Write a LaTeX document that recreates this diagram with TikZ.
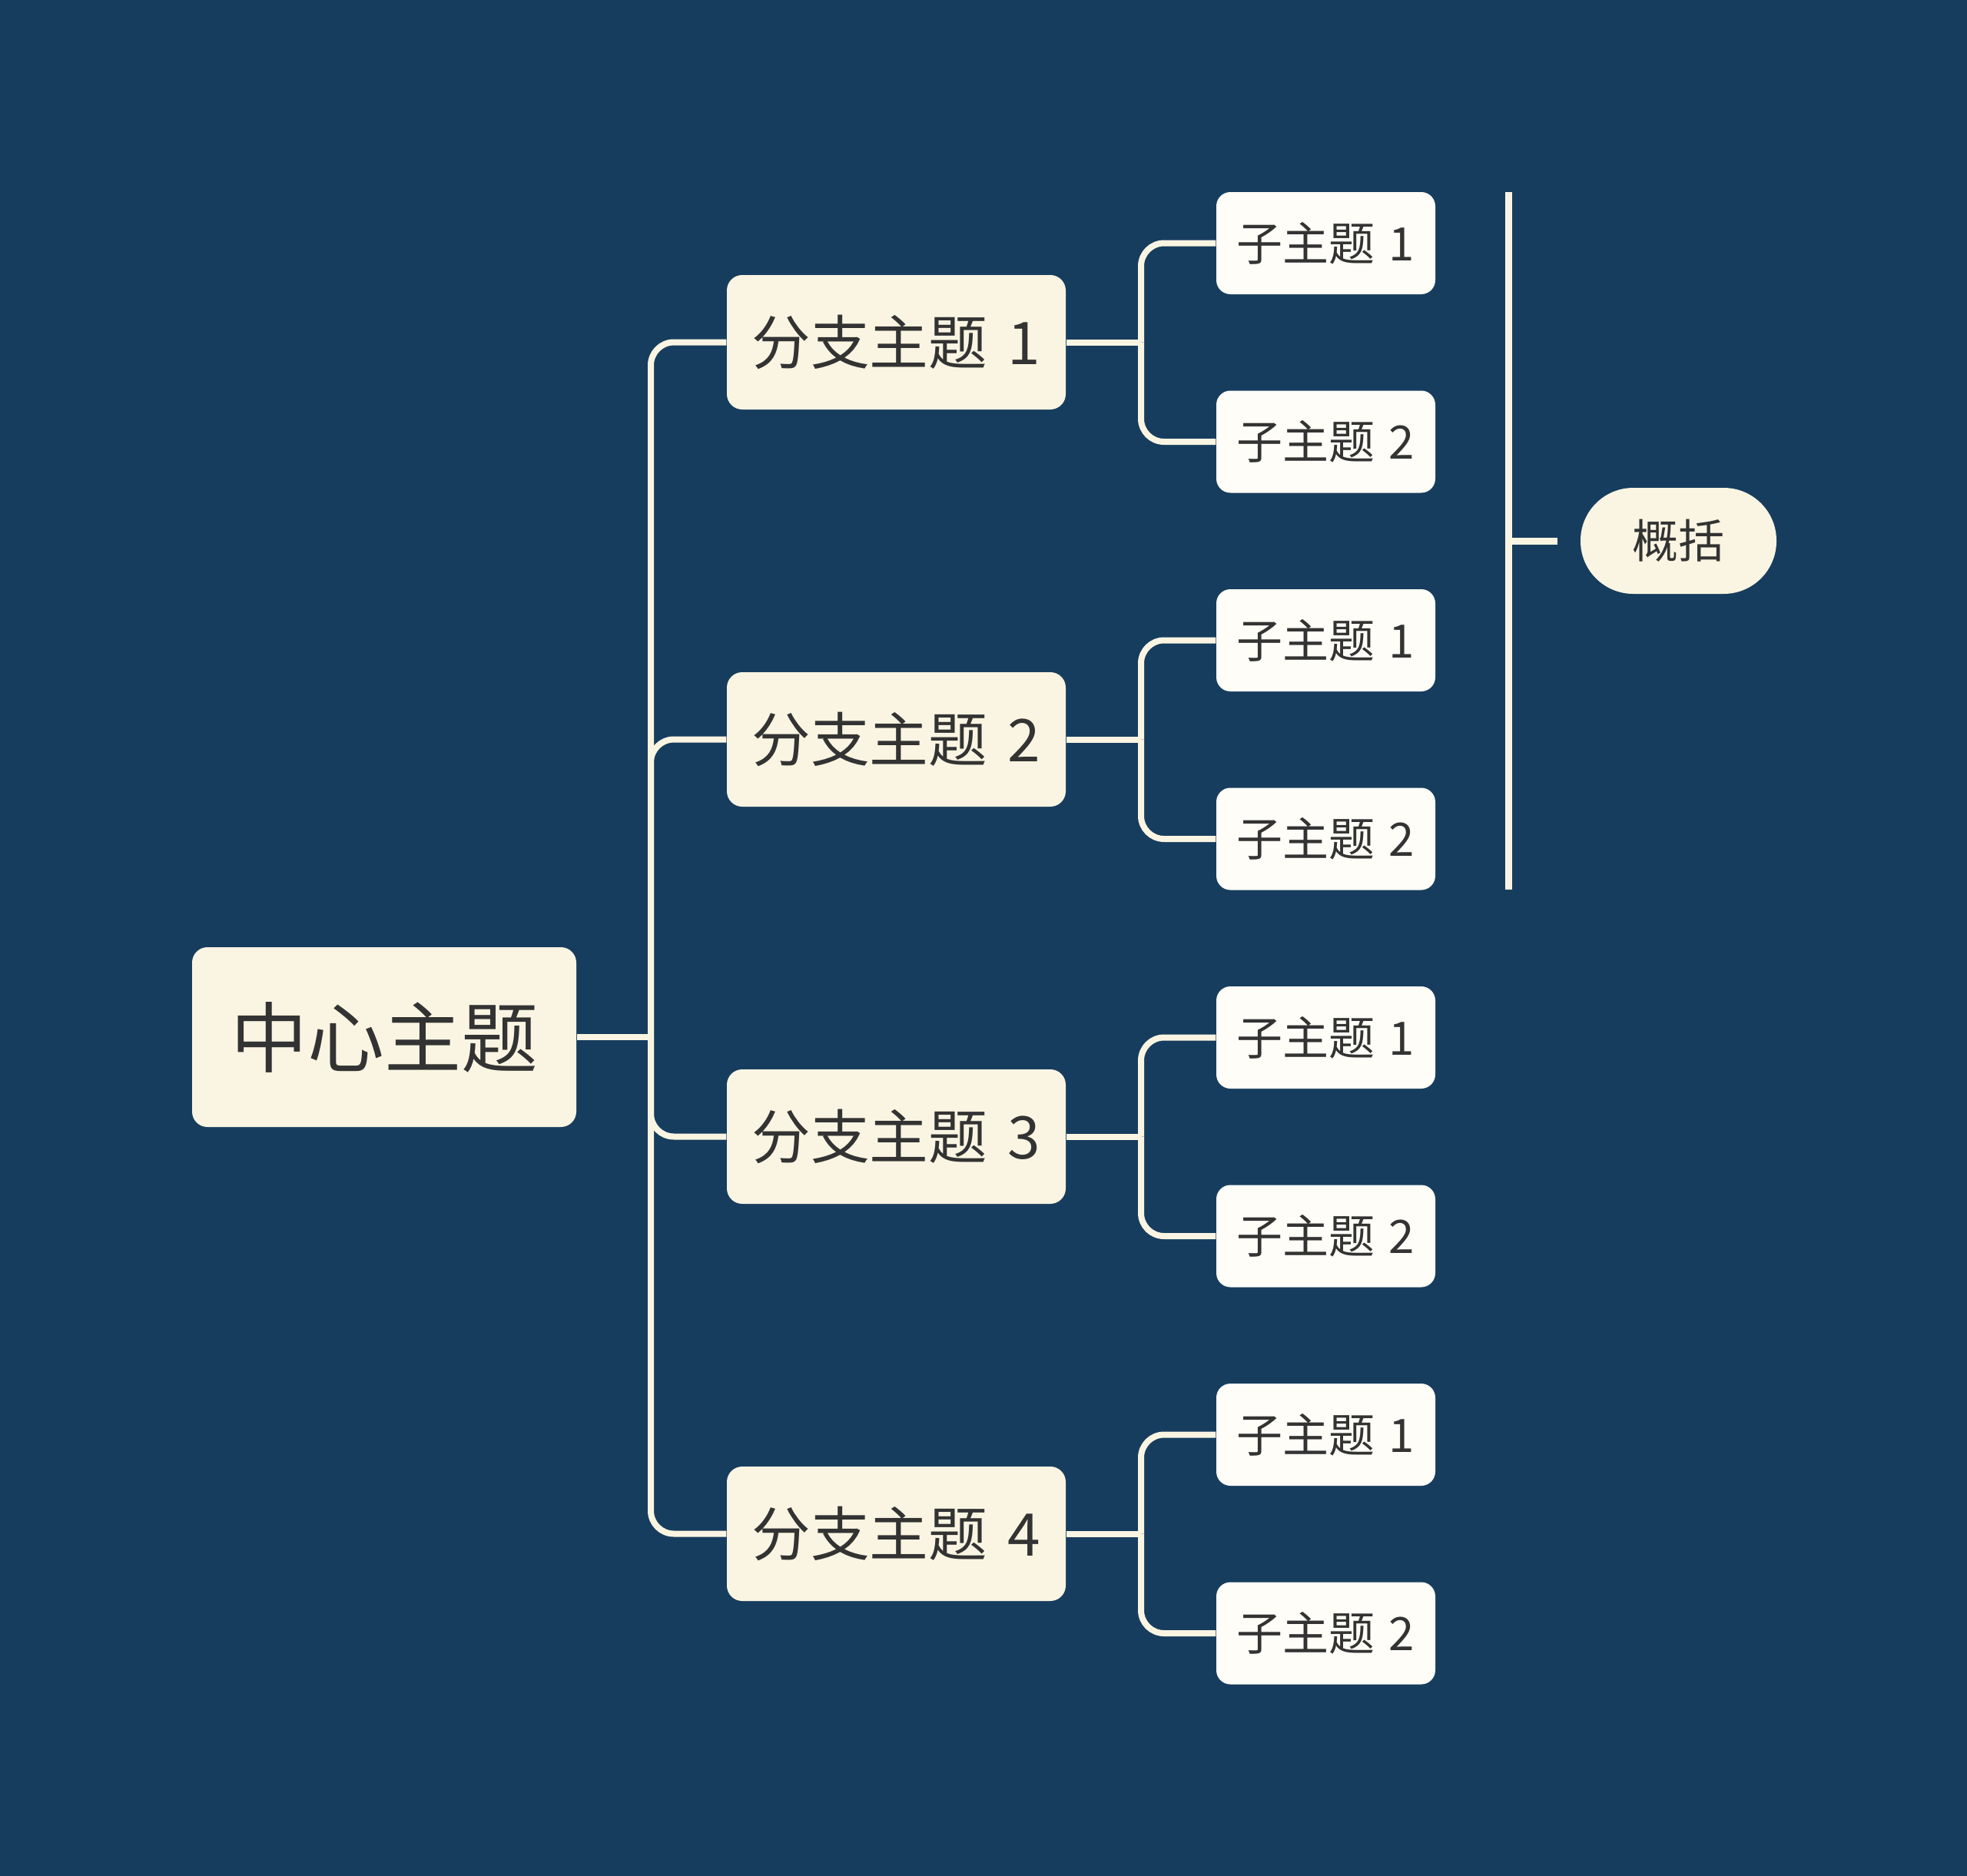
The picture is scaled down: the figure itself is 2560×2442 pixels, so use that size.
\documentclass[tikz,border=0pt]{standalone}
\usepackage{fontspec}
\setmainfont{Noto Sans CJK SC}
\definecolor{bg}{RGB}{23,61,94}
\definecolor{cream}{RGB}{250,245,226}
\definecolor{white2}{RGB}{254,253,247}
\definecolor{ink}{RGB}{51,51,51}
\tikzset{
  centralbox/.style={fill=cream, rounded corners=6pt, minimum width=150pt, minimum height=70.2pt, inner sep=0pt, text=ink, font=\fontsize{30pt}{36pt}\selectfont},
  branchbox/.style={fill=cream, rounded corners=6pt, minimum width=132.3pt, minimum height=52.5pt, inner sep=0pt, text=ink, font=\fontsize{23pt}{28pt}\selectfont},
  subbox/.style={fill=white2, rounded corners=5.5pt, minimum width=85.5pt, minimum height=39.9pt, inner sep=0pt, text=ink, font=\fontsize{18pt}{22pt}\selectfont},
  sumbox/.style={fill=cream, rounded corners=20.6pt, minimum width=76.5pt, minimum height=41.4pt, inner sep=0pt, text=ink, font=\fontsize{18pt}{22pt}\selectfont},
  link/.style={draw=cream, line width=2.4pt},
  bendlink/.style={draw=cream, line width=2.4pt, rounded corners=9pt},
  bracketline/.style={draw=cream, line width=2.7pt}
}
\begin{document}
\begin{tikzpicture}[x=0.3pt, y=-0.3pt]
\fill[bg] (0,0) rectangle (2560,2442);
\useasboundingbox (0,0) rectangle (2560,2442);

\node[centralbox] (c) at (500,1350) {中心主题};

\node[branchbox] (b1) at (1166.5,445.5) {分支主题\hspace{0.35em}1};
\node[branchbox] (b2) at (1166.5,962.5) {分支主题\hspace{0.35em}2};
\node[branchbox] (b3) at (1166.5,1479.5) {分支主题\hspace{0.35em}3};
\node[branchbox] (b4) at (1166.5,1996.5) {分支主题\hspace{0.35em}4};

\node[subbox] (s11) at (1725.5,316.5) {子主题\hspace{0.3em}1};
\node[subbox] (s12) at (1725.5,575) {子主题\hspace{0.3em}2};
\node[subbox] (s21) at (1725.5,833.5) {子主题\hspace{0.3em}1};
\node[subbox] (s22) at (1725.5,1092) {子主题\hspace{0.3em}2};
\node[subbox] (s31) at (1725.5,1350.5) {子主题\hspace{0.3em}1};
\node[subbox] (s32) at (1725.5,1609) {子主题\hspace{0.3em}2};
\node[subbox] (s41) at (1725.5,1867.5) {子主题\hspace{0.3em}1};
\node[subbox] (s42) at (1725.5,2126) {子主题\hspace{0.3em}2};

\node[sumbox] (sum) at (2184.5,704) {概括};

% trunk
\coordinate (t) at (847,1350);
\draw[link] (c.east) -- (t);
\foreach \b in {b1,b2,b3,b4} {
  \draw[bendlink] (t) |- (\b.west);
}
% branch to subtopics
\foreach \b/\sa/\sb in {b1/s11/s12,b2/s21/s22,b3/s31/s32,b4/s41/s42} {
  \coordinate (j\b) at (1485,0 |- \b.east);
  \draw[link] (\b.east) -- (j\b);
  \draw[bendlink] (j\b) |- (\sa.west);
  \draw[bendlink] (j\b) |- (\sb.west);
}
% summary bracket
\coordinate (bt) at (1963,250);
\coordinate (bb) at (1963,1158);
\coordinate (bm) at (1963,704);
\coordinate (bk) at (2027,704);
\draw[bracketline] (bt) -- (bb);
\draw[bracketline] (bm) -- (bk);
\end{tikzpicture}
\end{document}
